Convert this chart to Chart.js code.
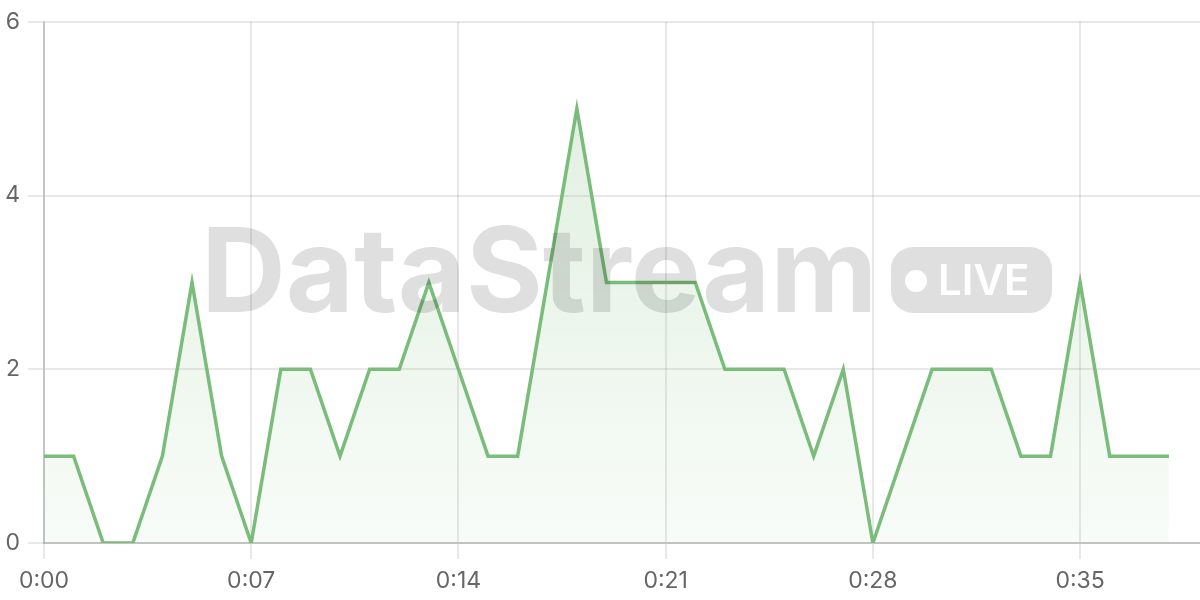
<!DOCTYPE html>
<html lang="en">
<head>
    <meta charset="UTF-8">
    <title>DataStream LIVE</title>
    <style>
        html, body { margin: 0; padding: 0; background: #fff; }
        #wrap { width: 1200px; height: 600px; position: relative; }
    </style>
</head>
<body>
    <div id="wrap"><canvas id="streamChart"></canvas></div>

    <script src="https://cdn.jsdelivr.net/npm/chart.js"></script>
    <script>
        // seconds since start and events per second
        const seconds = [0, 1, 2, 3, 4, 5, 6, 7, 8, 9, 10, 11, 12, 13, 14, 15, 16, 17, 18, 19,
                         20, 21, 22, 23, 24, 25, 26, 27, 28, 29, 30, 31, 32, 33, 34, 35, 36, 37, 38];
        const counts = [1, 1, 0, 0, 1, 3, 1, 0, 2, 2, 1, 2, 2, 3, 2, 1, 1, 3, 5, 3,
                        3, 3, 3, 2, 2, 2, 1, 2, 0, 1, 2, 2, 2, 1, 1, 3, 1, 1, 1];
        const timeLabels = ['0:00', '0:07', '0:14', '0:21', '0:28', '0:35'];
        const yTicks = [0, 2, 4, 6];

        const green = 'rgb(122, 188, 122)';

        // fit a string into a given width, starting at its ink edge
        function fitText(c, text, weight, x, y, width) {
            c.font = weight + ' 100px Inter';
            const m = c.measureText(text);
            const size = 100 * width / (m.actualBoundingBoxLeft + m.actualBoundingBoxRight);
            c.font = weight + ' ' + size.toFixed(1) + 'px Inter';
            const m2 = c.measureText(text);
            c.fillText(text, x + m2.actualBoundingBoxLeft, y);
        }

        // watermark drawn over the plot
        const watermark = {
            id: 'watermark',
            afterDatasetsDraw(chart) {
                const c = chart.ctx;
                c.save();
                c.fillStyle = 'rgba(0, 0, 0, 0.125)';
                c.textBaseline = 'alphabetic';
                fitText(c, 'DataStream', 'bold', 208, 312, 662);

                // LIVE pill
                c.beginPath();
                c.roundRect(891, 247, 161, 66, 22);
                c.fill();
                c.fillStyle = '#ffffff';
                c.beginPath();
                c.arc(916, 281, 11, 0, Math.PI * 2);
                c.fill();
                fitText(c, 'LIVE', '600', 941, 295, 86);
                c.restore();
            }
        };

        const ctx = document.getElementById('streamChart').getContext('2d');
        const streamChart = new Chart(ctx, {
            type: 'line',
            data: {
                datasets: [{
                    label: 'Events',
                    data: seconds.map((s, i) => ({ x: s, y: counts[i] })),
                    borderColor: green,
                    borderWidth: 3.5,
                    pointRadius: 0,
                    tension: 0,
                    fill: 'origin',
                    backgroundColor: function(context) {
                        const area = context.chart.chartArea;
                        if (!area) return 'rgba(122, 188, 122, 0.1)';
                        const g = context.chart.ctx.createLinearGradient(0, area.top, 0, area.bottom);
                        g.addColorStop(0, 'rgba(122, 188, 122, 0.26)');
                        g.addColorStop(1, 'rgba(122, 188, 122, 0.05)');
                        return g;
                    }
                }]
            },
            options: {
                responsive: true,
                maintainAspectRatio: false,
                animation: false,
                layout: { padding: { top: 7, right: 0, left: 0, bottom: 0 } },
                plugins: {
                    legend: { display: false },
                    tooltip: { enabled: false }
                },
                scales: {
                    x: {
                        type: 'linear',
                        min: 0,
                        max: 39.05,
                        grid: { color: 'rgba(0, 0, 0, 0.09)', lineWidth: 2, tickLength: 16 },
                        border: { color: 'rgba(0, 0, 0, 0.16)', width: 2 },
                        ticks: {
                            stepSize: 7,
                            includeBounds: false,
                            padding: 8,
                            color: '#666',
                            font: { family: 'Inter', size: 23 },
                            maxRotation: 0,
                            callback: function(value) {
                                return timeLabels[value / 7];
                            }
                        },
                        afterFit: function(scale) { scale.height = 57; }
                    },
                    y: {
                        min: 0,
                        max: 6,
                        grid: { color: 'rgba(0, 0, 0, 0.09)', lineWidth: 2, tickLength: 16 },
                        border: { color: 'rgba(0, 0, 0, 0.16)', width: 2 },
                        afterBuildTicks: function(scale) {
                            scale.ticks = yTicks.map(v => ({ value: v }));
                        },
                        ticks: {
                            padding: 8,
                            color: '#666',
                            font: { family: 'Inter', size: 23 }
                        },
                        afterFit: function(scale) { scale.width = 44; }
                    }
                }
            },
            plugins: [watermark]
        });
    </script>
</body>
</html>
